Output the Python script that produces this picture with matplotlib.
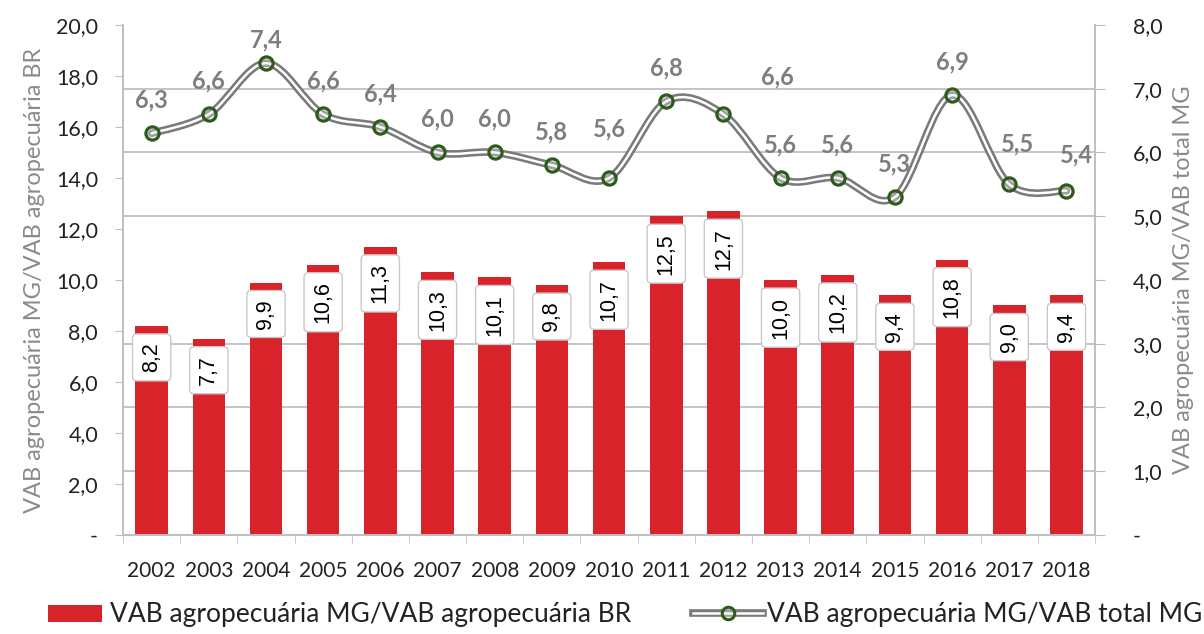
import numpy as np
import matplotlib
matplotlib.use("Agg")
import matplotlib.pyplot as plt
from matplotlib.path import Path
from matplotlib.patches import PathPatch, Patch
from matplotlib.lines import Line2D
from matplotlib.ticker import FuncFormatter

plt.rcParams["font.family"] = ["Lato", "DejaVu Sans"]

years = [str(y) for y in range(2002, 2019)]
share_br = [8.2, 7.7, 9.9, 10.6, 11.3, 10.3, 10.1, 9.8, 10.7, 12.5, 12.7, 10.0, 10.2, 9.4, 10.8, 9.0, 9.4]
share_mg = [6.3, 6.6, 7.4, 6.6, 6.4, 6.0, 6.0, 5.8, 5.6, 6.8, 6.6, 5.6, 5.6, 5.3, 6.9, 5.5, 5.4]

bar_label = "VAB agropecuária MG/VAB agropecuária BR"
line_label = "VAB agropecuária MG/VAB total MG"

red = "#D9232A"
grid_c = "#BFBFBF"
txt_c = "#222222"
gray_txt = "#8A8A8A"
lbl_gray = "#7E7E7E"
green = "#2F5A1E"

# label offsets (points) for the line labels that were moved by hand in the original
label_shift = {"2004": (0, 17), "2010": (0, 35), "2012": (39, 27), "2017": (6, 29), "2018": (7, 26)}


def fmt(v, pos=None):
    if abs(v) < 1e-9:
        return "-"
    return f"{v:.1f}".replace(".", ",")


def smooth_path(xs, ys):
    # Catmull-Rom style bezier, like Excel's smoothed line
    pts = np.column_stack([xs, ys]).astype(float)
    n = len(pts)
    verts = [pts[0]]
    codes = [Path.MOVETO]
    for i in range(n - 1):
        p0 = pts[i - 1] if i > 0 else pts[i]
        p1 = pts[i]
        p2 = pts[i + 1]
        p3 = pts[i + 2] if i + 2 < n else pts[i + 1]
        c1 = p1 + (p2 - p0) / 6
        c2 = p2 - (p3 - p1) / 6
        verts += [c1, c2, p2]
        codes += [Path.CURVE4] * 3
    return Path(verts, codes)


fig = plt.figure(figsize=(12.04, 6.34), dpi=100)
ax = fig.add_axes([0.1022, 0.1562, 0.8073, 0.8044])
ax2 = ax.twinx()

x = np.arange(len(years))
ax.bar(x, share_br, width=0.57, color=red, zorder=2)
for xi, v in zip(x, share_br):
    ax.annotate(fmt(v), xy=(xi, v), xytext=(0, -12), textcoords="offset points",
                rotation=90, ha="center", va="top", fontsize=15.5, color="black", zorder=3,
                family=["Liberation Sans", "DejaVu Sans"],
                bbox=dict(boxstyle="round,pad=0.4,rounding_size=0.2", fc="white", ec="#C8C8C8", lw=1))

ax.set_xlim(-0.5, len(years) - 0.5)
ax.set_ylim(0, 20)
ax.set_yticks(np.arange(0, 20.1, 2))
ax.yaxis.set_major_formatter(FuncFormatter(fmt))
ax.set_yticks(np.arange(2.5, 20.1, 2.5), minor=True)
ax.grid(which="minor", axis="y", color=grid_c, lw=1.3)
ax.set_axisbelow(True)
ax.set_xticks(x)
ax.set_xticklabels(years)
ax.set_xticks(np.arange(-0.5, len(years), 1), minor=True)
ax.tick_params(axis="x", which="major", length=0, labelsize=15, labelcolor=txt_c, pad=18.5)
ax.tick_params(axis="x", which="minor", length=6, color=grid_c, direction="out")
ax.tick_params(axis="y", which="major", length=6, color=grid_c, labelsize=15.5, labelcolor=txt_c, pad=12)
ax.tick_params(axis="y", which="minor", length=0)
ax.set_ylabel(bar_label, fontsize=17, color=gray_txt, labelpad=8)

ax2.set_ylim(0, 8)
ax2.set_yticks(np.arange(0, 8.1, 1))
ax2.yaxis.set_major_formatter(FuncFormatter(fmt))
ax2.tick_params(axis="y", length=7, color=grid_c, labelsize=15.5, labelcolor=txt_c, pad=20)
ax2.set_ylabel(line_label, fontsize=17, color=gray_txt, labelpad=8)

for a in (ax, ax2):
    for s in a.spines.values():
        s.set_color(grid_c)
        s.set_linewidth(1.2)
    a.spines["top"].set_visible(False)

path = smooth_path(x, share_mg)
ax2.add_patch(PathPatch(path, fc="none", ec="#7A7A7A", lw=5.5, zorder=4, capstyle="round"))
ax2.add_patch(PathPatch(path, fc="none", ec="white", lw=1.8, zorder=5, capstyle="round"))
ax2.plot(x, share_mg, ls="none", marker="o", ms=9.5, mfc=(0.9, 0.9, 0.9, 0.35), mec=green, mew=2.3, zorder=6)
for yr, xi, v in zip(years, x, share_mg):
    ax2.annotate(fmt(v), xy=(xi, v), xytext=label_shift.get(yr, (0, 24)), textcoords="offset points",
                 ha="center", va="center", fontsize=17, fontweight="bold", color=lbl_gray, zorder=7)

h_bar = Patch(fc=red, ec="none")
h_line = (Line2D([], [], color="#7A7A7A", lw=5.5),
          Line2D([], [], color="white", lw=1.8),
          Line2D([], [], ls="none", marker="o", ms=9, mfc=(0.9, 0.9, 0.9, 0.35), mec=green, mew=2.2))
fig.legend([h_bar], [bar_label], loc="center left", bbox_to_anchor=(0.040, 0.030),
           frameon=False, fontsize=19, handlelength=2.05, handleheight=0.6,
           handletextpad=0.3, borderpad=0, borderaxespad=0, labelcolor=txt_c)
fig.legend([h_line], [line_label], loc="center left", bbox_to_anchor=(0.5756, 0.030),
           frameon=False, fontsize=19, handlelength=2.65, handletextpad=0.15,
           borderpad=0, borderaxespad=0, labelcolor=txt_c)

fig.savefig("out.png", dpi=100)
